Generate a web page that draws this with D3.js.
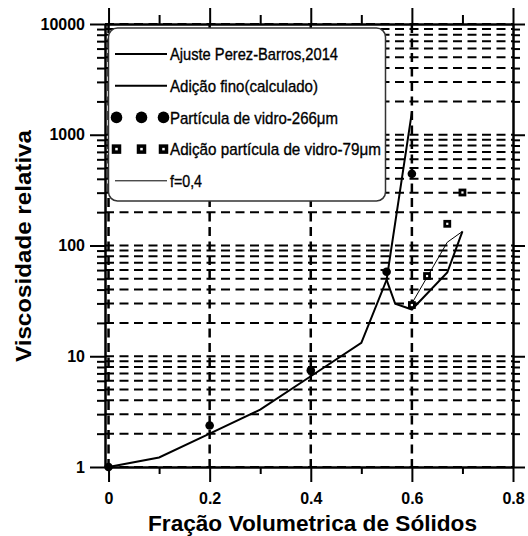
<!doctype html>
<html lang="en">
  <head>
    <meta charset="UTF-8" />
    <title>Viscosidade relativa</title>
    <script src="https://d3js.org/d3.v7.min.js"></script>
    <style>
      body { margin: 0; background: #fff; }
      svg { display: block; font-family: 'Liberation Sans', Arial, sans-serif; }
      .tick text {
        font-family: 'Liberation Sans', Arial, sans-serif;
        font-size: 16px;
        font-weight: bold;
        fill: #000;
      }
      .axis-title { font-size: 22px; font-weight: bold; }
      .legend-text { font-size: 17px; stroke: #000; stroke-width: 0.35px; }
    </style>
  </head>
  <body>
    <div id="chart"></div>
    <script>
      // Ajuste Perez-Barros,2014
      const fitX = [0, 0.1, 0.2, 0.3, 0.4, 0.5, 0.55, 0.6];
      const fitY = [1, 1.22, 2.0, 3.3, 6.6, 13.2, 49, 1600];
      // Adição fino(calculado)
      const finoX = [0.55, 0.567, 0.6, 0.67, 0.7];
      const finoY = [49, 29.8, 26.4, 57, 134];
      // f=0,4
      const f04X = [0.6, 0.67, 0.7];
      const f04Y = [30, 107, 134];
      // Partícula de vidro-266µm
      const vidro266X = [0, 0.2, 0.4, 0.55, 0.6];
      const vidro266Y = [1, 2.37, 7.45, 58, 444];
      // Adição partícula de vidro-79µm
      const vidro79X = [0.6, 0.63, 0.67, 0.7];
      const vidro79Y = [29, 53, 157, 301];

      const xMajor = [0, 0.2, 0.4, 0.6, 0.8];
      const xMinor = [0.1, 0.3, 0.5, 0.7];
      const xGrid = [0, 0.2, 0.4, 0.6];
      const yMajor = [1, 10, 100, 1000, 10000];

      const legendItems = [
        { label: 'Ajuste Perez-Barros,2014', kind: 'line', w: 2, len: 168 },
        { label: 'Adição fino(calculado)', kind: 'line', w: 2, len: 148 },
        { label: 'Partícula de vidro-266μm', kind: 'circle', len: 168 },
        { label: 'Adição partícula de vidro-79μm', kind: 'square', len: 211 },
        { label: 'f=0,4', kind: 'line', w: 1, len: 32 },
      ];

      const W = 528, H = 536;
      const plot = { left: 105, right: 513, top: 24, bottom: 467 };

      const svg = d3.select('#chart').append('svg')
        .attr('width', W).attr('height', H);

      const x = d3.scaleLinear().domain([-0.007, 0.8]).range([plot.left, plot.right]);
      const y = d3.scaleLog().domain([1, 10000]).range([plot.bottom, plot.top]);

      // dashed grid
      const grid = svg.append('g').attr('stroke', '#000').attr('fill', 'none');
      grid.selectAll('.hgrid').data(y.ticks()).enter().append('line')
        .attr('x1', plot.left).attr('x2', plot.right)
        .attr('y1', d => y(d)).attr('y2', d => y(d))
        .attr('stroke-width', 2).attr('stroke-dasharray', '9,5.5');
      grid.selectAll('.vgrid').data(xGrid).enter().append('line')
        .attr('x1', d => x(d)).attr('x2', d => x(d))
        .attr('y1', plot.top).attr('y2', plot.bottom)
        .attr('stroke-width', 2.5).attr('stroke-dasharray', '9,5.5');

      // legend box (covers grid)
      const legend = svg.append('g');
      legend.append('rect')
        .attr('x', 108.5).attr('y', 28).attr('width', 277).attr('height', 173)
        .attr('rx', 9).attr('fill', '#fff').attr('stroke', '#333').attr('stroke-width', 1.5);

      legendItems.forEach((item, i) => {
        const cy = 54 + i * 31.7;
        if (item.kind === 'line') {
          legend.append('line').attr('x1', 115).attr('x2', 167)
            .attr('y1', cy).attr('y2', cy)
            .attr('stroke', '#000').attr('stroke-width', item.w);
        } else {
          [116.5, 141.5, 163.5].forEach(cx => {
            if (item.kind === 'circle') {
              legend.append('circle').attr('cx', cx).attr('cy', cy).attr('r', 5.8).attr('fill', '#000');
            } else {
              legend.append('rect').attr('x', cx - 3).attr('y', cy - 3)
                .attr('width', 6).attr('height', 6)
                .attr('fill', '#fff').attr('stroke', '#000').attr('stroke-width', 3.5);
            }
          });
        }
        legend.append('text').attr('class', 'legend-text')
          .attr('x', 170).attr('y', cy).attr('dy', '0.36em')
          .attr('textLength', item.len).attr('lengthAdjust', 'spacingAndGlyphs')
          .text(item.label);
      });

      // axes
      function styleAxis(g) {
        g.attr('font-family', null).attr('font-size', null);
        g.select('.domain').attr('stroke-width', 2);
        g.selectAll('.tick line').attr('stroke-width', 2);
      }
      const yMinorVals = y.ticks().filter(v => !yMajor.includes(v));

      svg.append('g').attr('transform', `translate(${plot.left},0)`)
        .call(d3.axisLeft(y).tickValues(yMajor).tickFormat(d3.format('d'))
          .tickSize(15).tickSizeOuter(0).tickPadding(5)).call(styleAxis);
      svg.append('g').attr('transform', `translate(${plot.left},0)`)
        .call(d3.axisLeft(y).tickValues(yMinorVals).tickFormat('')
          .tickSize(8).tickSizeOuter(0)).call(styleAxis);
      svg.append('g').attr('transform', `translate(${plot.right},0)`)
        .call(d3.axisRight(y).tickValues(yMajor).tickFormat('')
          .tickSize(12).tickSizeOuter(0)).call(styleAxis);
      svg.append('g').attr('transform', `translate(${plot.right},0)`)
        .call(d3.axisRight(y).tickValues(yMinorVals).tickFormat('')
          .tickSize(7).tickSizeOuter(0)).call(styleAxis);

      svg.append('g').attr('transform', `translate(0,${plot.bottom})`)
        .call(d3.axisBottom(x).tickValues(xMajor).tickFormat(d => d === 0 ? '0' : d3.format('.1f')(d))
          .tickSize(15).tickSizeOuter(0).tickPadding(11)).call(styleAxis);
      svg.append('g').attr('transform', `translate(0,${plot.bottom})`)
        .call(d3.axisBottom(x).tickValues(xMinor).tickFormat('')
          .tickSize(7).tickSizeOuter(0)).call(styleAxis);
      svg.append('g').attr('transform', `translate(0,${plot.top})`)
        .call(d3.axisTop(x).tickValues(xMajor).tickFormat('')
          .tickSize(16).tickSizeOuter(0)).call(styleAxis);
      svg.append('g').attr('transform', `translate(0,${plot.top})`)
        .call(d3.axisTop(x).tickValues(xMinor).tickFormat('')
          .tickSize(9).tickSizeOuter(0)).call(styleAxis);

      // data lines
      const line = d3.line().x(d => x(d[0])).y(d => y(d[1]));
      const draw = (xs, ys, w) => svg.append('path')
        .datum(xs.map((v, i) => [v, ys[i]]))
        .attr('d', line).attr('fill', 'none')
        .attr('stroke', '#000').attr('stroke-width', w).attr('stroke-linejoin', 'miter');
      draw(fitX, fitY, 2);
      draw(finoX, finoY, 2);
      draw(f04X, f04Y, 1);

      // symbols
      svg.selectAll('.dot').data(vidro266X.map((v, i) => [v, vidro266Y[i]]))
        .enter().append('circle')
        .attr('cx', d => x(d[0])).attr('cy', d => y(d[1])).attr('r', 4.3).attr('fill', '#000');
      svg.selectAll('.sq').data(vidro79X.map((v, i) => [v, vidro79Y[i]]))
        .enter().append('rect')
        .attr('x', d => x(d[0]) - 2.5).attr('y', d => y(d[1]) - 2.5)
        .attr('width', 5).attr('height', 5)
        .attr('fill', '#fff').attr('stroke', '#000').attr('stroke-width', 2.8);

      // axis titles
      svg.append('text').attr('class', 'axis-title')
        .attr('x', 312.5).attr('y', 531).attr('text-anchor', 'middle')
        .attr('textLength', 329).attr('lengthAdjust', 'spacingAndGlyphs')
        .text('Fração Volumetrica de Sólidos');
      svg.append('text').attr('class', 'axis-title')
        .attr('transform', 'translate(31,246) rotate(-90)')
        .attr('text-anchor', 'middle')
        .attr('textLength', 232).attr('lengthAdjust', 'spacingAndGlyphs')
        .text('Viscosidade relativa');
    </script>
  </body>
</html>
